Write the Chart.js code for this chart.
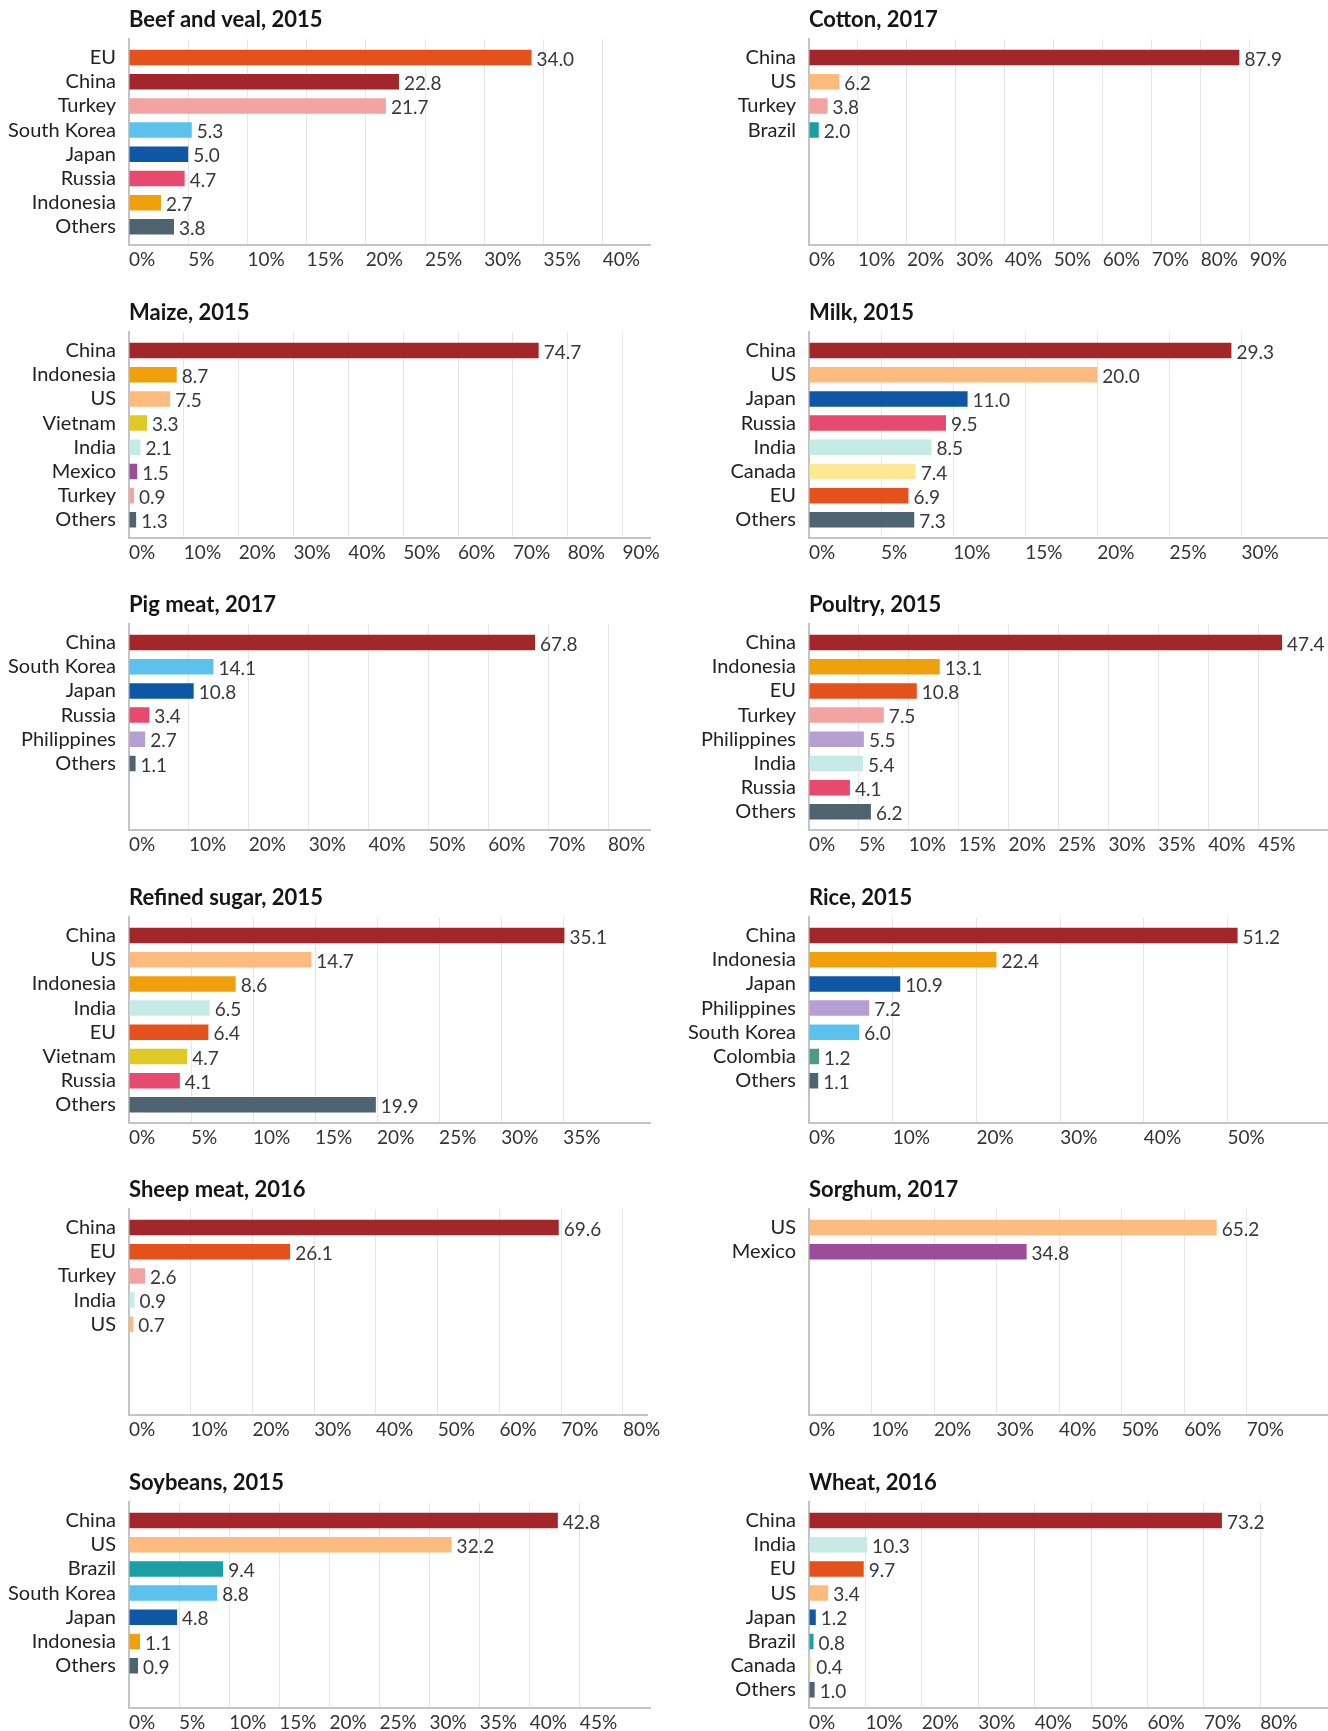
<!DOCTYPE html>
<html>
<head>
<meta charset="utf-8">
<script src="https://cdn.jsdelivr.net/npm/chart.js@4.4.1/dist/chart.umd.min.js"></script>
<style>
  html, body { margin: 0; padding: 0; background: #fff; }
  body { width: 1328px; height: 1731px; overflow: hidden; position: relative; }
  .panel { position: absolute; width: 664px; height: 293px; }
</style>
</head>
<body>
<script>
// import shares by commodity, % of world total
const beefLabels = ['EU', 'China', 'Turkey', 'South Korea', 'Japan', 'Russia', 'Indonesia', 'Others'];
const beefValues = [34.0, 22.8, 21.7, 5.3, 5.0, 4.7, 2.7, 3.8];
const beefTicks = [0, 5, 10, 15, 20, 25, 30, 35, 40];

const cottonLabels = ['China', 'US', 'Turkey', 'Brazil'];
const cottonValues = [87.9, 6.2, 3.8, 2.0];
const cottonTicks = [0, 10, 20, 30, 40, 50, 60, 70, 80, 90];

const maizeLabels = ['China', 'Indonesia', 'US', 'Vietnam', 'India', 'Mexico', 'Turkey', 'Others'];
const maizeValues = [74.7, 8.7, 7.5, 3.3, 2.1, 1.5, 0.9, 1.3];
const maizeTicks = [0, 10, 20, 30, 40, 50, 60, 70, 80, 90];

const milkLabels = ['China', 'US', 'Japan', 'Russia', 'India', 'Canada', 'EU', 'Others'];
const milkValues = [29.3, 20.0, 11.0, 9.5, 8.5, 7.4, 6.9, 7.3];
const milkTicks = [0, 5, 10, 15, 20, 25, 30];

const pigLabels = ['China', 'South Korea', 'Japan', 'Russia', 'Philippines', 'Others'];
const pigValues = [67.8, 14.1, 10.8, 3.4, 2.7, 1.1];
const pigTicks = [0, 10, 20, 30, 40, 50, 60, 70, 80];

const poultryLabels = ['China', 'Indonesia', 'EU', 'Turkey', 'Philippines', 'India', 'Russia', 'Others'];
const poultryValues = [47.4, 13.1, 10.8, 7.5, 5.5, 5.4, 4.1, 6.2];
const poultryTicks = [0, 5, 10, 15, 20, 25, 30, 35, 40, 45];

const sugarLabels = ['China', 'US', 'Indonesia', 'India', 'EU', 'Vietnam', 'Russia', 'Others'];
const sugarValues = [35.1, 14.7, 8.6, 6.5, 6.4, 4.7, 4.1, 19.9];
const sugarTicks = [0, 5, 10, 15, 20, 25, 30, 35];

const riceLabels = ['China', 'Indonesia', 'Japan', 'Philippines', 'South Korea', 'Colombia', 'Others'];
const riceValues = [51.2, 22.4, 10.9, 7.2, 6.0, 1.2, 1.1];
const riceTicks = [0, 10, 20, 30, 40, 50];

const sheepLabels = ['China', 'EU', 'Turkey', 'India', 'US'];
const sheepValues = [69.6, 26.1, 2.6, 0.9, 0.7];
const sheepTicks = [0, 10, 20, 30, 40, 50, 60, 70, 80];

const sorghumLabels = ['US', 'Mexico'];
const sorghumValues = [65.2, 34.8];
const sorghumTicks = [0, 10, 20, 30, 40, 50, 60, 70];

const soyLabels = ['China', 'US', 'Brazil', 'South Korea', 'Japan', 'Indonesia', 'Others'];
const soyValues = [42.8, 32.2, 9.4, 8.8, 4.8, 1.1, 0.9];
const soyTicks = [0, 5, 10, 15, 20, 25, 30, 35, 40, 45];

const wheatLabels = ['China', 'India', 'EU', 'US', 'Japan', 'Brazil', 'Canada', 'Others'];
const wheatValues = [73.2, 10.3, 9.7, 3.4, 1.2, 0.8, 0.4, 1.0];
const wheatTicks = [0, 10, 20, 30, 40, 50, 60, 70, 80];

const panels = [
  { title: 'Beef and veal, 2015', labels: beefLabels, values: beefValues, ticks: beefTicks, max: 44 },
  { title: 'Cotton, 2017', labels: cottonLabels, values: cottonValues, ticks: cottonTicks, max: 106 },
  { title: 'Maize, 2015', labels: maizeLabels, values: maizeValues, ticks: maizeTicks, max: 95 },
  { title: 'Milk, 2015', labels: milkLabels, values: milkValues, ticks: milkTicks, max: 36 },
  { title: 'Pig meat, 2017', labels: pigLabels, values: pigValues, ticks: pigTicks, max: 87 },
  { title: 'Poultry, 2015', labels: poultryLabels, values: poultryValues, ticks: poultryTicks, max: 52 },
  { title: 'Refined sugar, 2015', labels: sugarLabels, values: sugarValues, ticks: sugarTicks, max: 42 },
  { title: 'Rice, 2015', labels: riceLabels, values: riceValues, ticks: riceTicks, max: 62 },
  { title: 'Sheep meat, 2016', labels: sheepLabels, values: sheepValues, ticks: sheepTicks, max: 84 },
  { title: 'Sorghum, 2017', labels: sorghumLabels, values: sorghumValues, ticks: sorghumTicks, max: 83 },
  { title: 'Soybeans, 2015', labels: soyLabels, values: soyValues, ticks: soyTicks, max: 52 },
  { title: 'Wheat, 2016', labels: wheatLabels, values: wheatValues, ticks: wheatTicks, max: 92 }
];

const COLORS = {
  'China': '#a3262a',
  'EU': '#e5511a',
  'Turkey': '#f4a3a3',
  'South Korea': '#5bc2ee',
  'Japan': '#0d57a5',
  'Russia': '#e8496e',
  'Indonesia': '#efa00b',
  'Others': '#4e6470',
  'US': '#fdbc7e',
  'Brazil': '#1b9ea4',
  'Vietnam': '#dfc924',
  'India': '#c6ebe7',
  'Mexico': '#9c4c9a',
  'Canada': '#fde994',
  'Philippines': '#b69fd3',
  'Colombia': '#4d9a85'
};

const FONT = 'Lato, "Open Sans", sans-serif';
const ROWS = 8;          // every panel reserves room for eight bars
const ROW_H = 292.6;

// value printed just past the end of each bar
const valueLabels = {
  id: 'valueLabels',
  afterDatasetsDraw(chart) {
    const ctx = chart.ctx;
    const meta = chart.getDatasetMeta(0);
    const data = chart.data.datasets[0].data;
    ctx.save();
    ctx.font = '19px ' + FONT;
    ctx.fillStyle = '#383838';
    ctx.textAlign = 'left';
    ctx.textBaseline = 'middle';
    meta.data.forEach((bar, i) => {
      ctx.fillText(data[i].x.toFixed(1), bar.x + 5, bar.y + 2);
    });
    ctx.restore();
  }
};

panels.forEach((p, idx) => {
  const col = idx % 2;
  const row = Math.floor(idx / 2);
  const box = document.createElement('div');
  box.className = 'panel';
  box.style.left = (col * 664) + 'px';
  box.style.top = (row * ROW_H) + 'px';
  const cv = document.createElement('canvas');
  cv.width = 664;
  cv.height = 293;
  box.appendChild(cv);
  document.body.appendChild(box);

  new Chart(cv, {
    type: 'bar',
    data: {
      datasets: [{
        data: p.values.map((v, i) => ({ x: v, y: i })),
        backgroundColor: p.labels.map(c => COLORS[c]),
        barPercentage: 0.64,
        categoryPercentage: 1
      }]
    },
    options: {
      indexAxis: 'y',
      responsive: false,
      animation: false,
      layout: { padding: { left: 0, right: col ? 0 : 14, top: 0, bottom: 0 } },
      plugins: {
        legend: { display: false },
        tooltip: { enabled: false },
        title: {
          display: true,
          text: p.title,
          align: 'start',
          fullSize: false,
          color: '#151515',
          font: { family: FONT, size: 22, weight: 'bold' },
          padding: { top: 7, bottom: 6 }
        }
      },
      scales: {
        x: {
          type: 'linear',
          min: 0,
          max: p.max,
          afterBuildTicks: s => { s.ticks = p.ticks.map(v => ({ value: v })); },
          afterFit: s => { s.height = 48; },
          grid: { color: '#e6e6e6', lineWidth: 1, drawTicks: false },
          border: { color: '#c4c4c4', width: 2 },
          ticks: {
            align: 'start',
            padding: 3,
            color: '#333',
            font: { family: FONT, size: 19 },
            callback: v => v + '%'
          }
        },
        y: {
          type: 'linear',
          reverse: true,
          offset: false,
          min: -0.75,
          max: ROWS - 0.25,
          afterBuildTicks: s => { s.ticks = p.labels.map((_, i) => ({ value: i })); },
          afterFit: s => { s.width = col ? 145 : 129; },
          grid: { display: false, drawTicks: false, offset: false },
          border: { color: '#c4c4c4', width: 2 },
          ticks: {
            autoSkip: false,
            padding: 13,
            color: '#222',
            font: { family: FONT, size: 20 },
            callback: v => p.labels[v]
          }
        }
      }
    },
    plugins: [valueLabels]
  });
});
</script>
</body>
</html>
